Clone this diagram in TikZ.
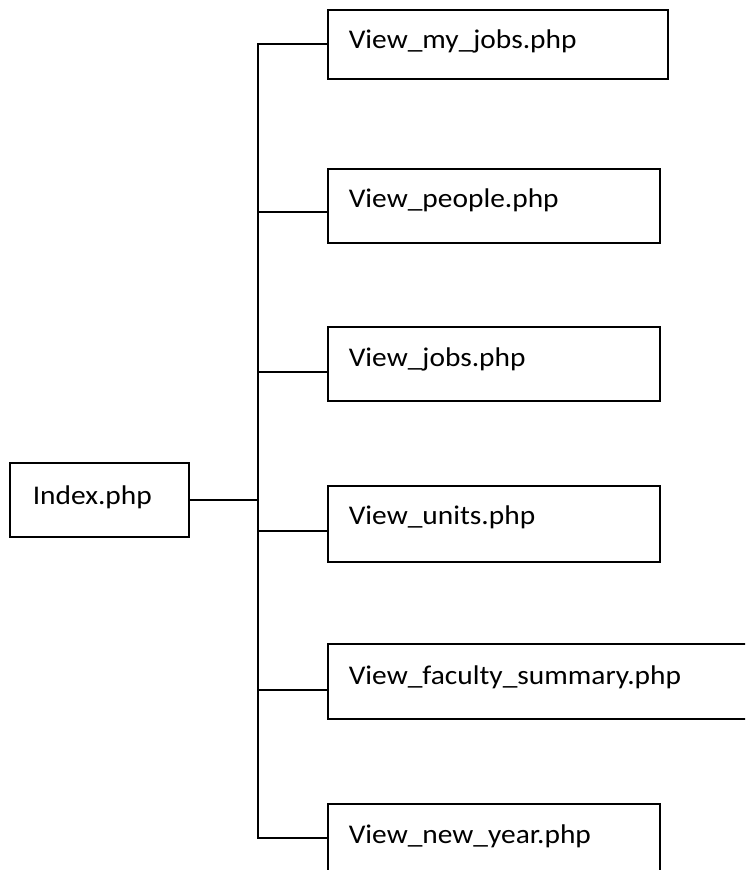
\documentclass[tikz,border=0pt]{standalone}
\usepackage{fontspec}
\setmainfont{Carlito}[FakeStretch=1.09]
\begin{document}
\begin{tikzpicture}[x=1pt,y=-1pt,line width=1.6pt,
  box/.style={draw,line width=1.6pt,inner sep=0pt,outer sep=0pt,anchor=north west},
  lbl/.style={anchor=base west,inner sep=0pt,font=\fontsize{27}{32}\selectfont}]
\useasboundingbox (0,0) rectangle (745,870);
\clip (0,0) rectangle (745,870);
% boxes
\node[box,minimum width=179pt,minimum height=74pt] (idx) at (10,463) {};
\node[box,minimum width=340pt,minimum height=69pt] (b1) at (328,10) {};
\node[box,minimum width=332pt,minimum height=74pt] (b2) at (328,169) {};
\node[box,minimum width=332pt,minimum height=74pt] (b3) at (328,327) {};
\node[box,minimum width=332pt,minimum height=76pt] (b4) at (328,486) {};
\node[box,minimum width=440pt,minimum height=75pt] (b5) at (328,644) {};
\node[box,minimum width=332pt,minimum height=100pt] (b6) at (328,804) {};
% labels
\node[lbl] (lidx) at (32,504) {Index.php};
\node[lbl] (l1) at (348,48) {View\_my\_jobs.php};
\node[lbl] (l2) at (348,207) {View\_people.php};
\node[lbl] (l3) at (348,366) {View\_jobs.php};
\node[lbl] (l4) at (348,524) {View\_units.php};
\node[lbl] (l5) at (348,684) {View\_faculty\_summary.php};
\node[lbl] (l6) at (348,843) {View\_new\_year.php};
% trunk coordinates
\coordinate (t1) at (258,44);
\coordinate (t2) at (258,212);
\coordinate (t3) at (258,372);
\coordinate (t4) at (258,531);
\coordinate (t5) at (258,690);
\coordinate (t6) at (258,838);
% connectors
\draw (t1 -| b1.west) -- (t1) -- (t6) -- (t6 -| b6.west);
\draw (t2) -- (t2 -| b2.west);
\draw (t3) -- (t3 -| b3.west);
\draw (t4) -- (t4 -| b4.west);
\draw (t5) -- (t5 -| b5.west);
\draw (idx.east) -- (idx.east -| t1);
\end{tikzpicture}
\end{document}
